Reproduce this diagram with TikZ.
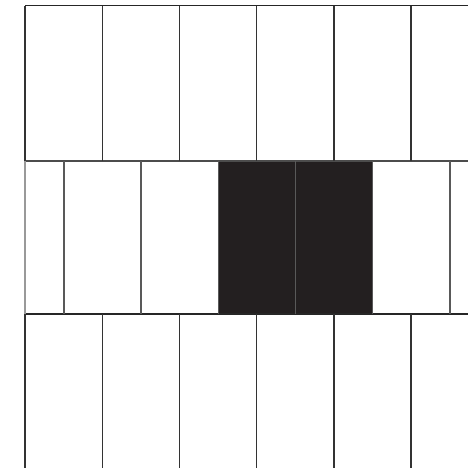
\documentclass[tikz,border=0pt]{standalone}
\begin{document}
\begin{tikzpicture}[x=0.02cm, y=-0.02cm, line width=1pt]
	\useasboundingbox (0,0) rectangle (468,468);
	\tikzset{
		course/.style={color=black!85},
		joint/.style={color=black!80},
		halfjoint/.style={color=black!65},
		rim/.style={color=black!40},
		darkbrick/.style={fill={rgb,255:red,35;green,31;blue,32}}
	}
	\fill[darkbrick] (218,160.7) rectangle (373,314);
	\draw[course] (25.3,5.5) -- (468,5.5);
	\draw[course, color=black!70] (25.3,160.7) -- (468,160.7);
	\draw[course] (25.3,314) -- (468,314);
	\foreach \i in {0,...,5} {
		\draw[joint] (25.3+77.1*\i,5.5) -- (25.3+77.1*\i,160.7);
		\draw[joint] (25.3+77.1*\i,314) -- (25.3+77.1*\i,468);
		\draw[halfjoint] (64.2+77.1*\i,160.7) -- (64.2+77.1*\i,314);
	}
	\draw[rim] (25.3,160.7) -- (25.3,314);
\end{tikzpicture}
\end{document}
